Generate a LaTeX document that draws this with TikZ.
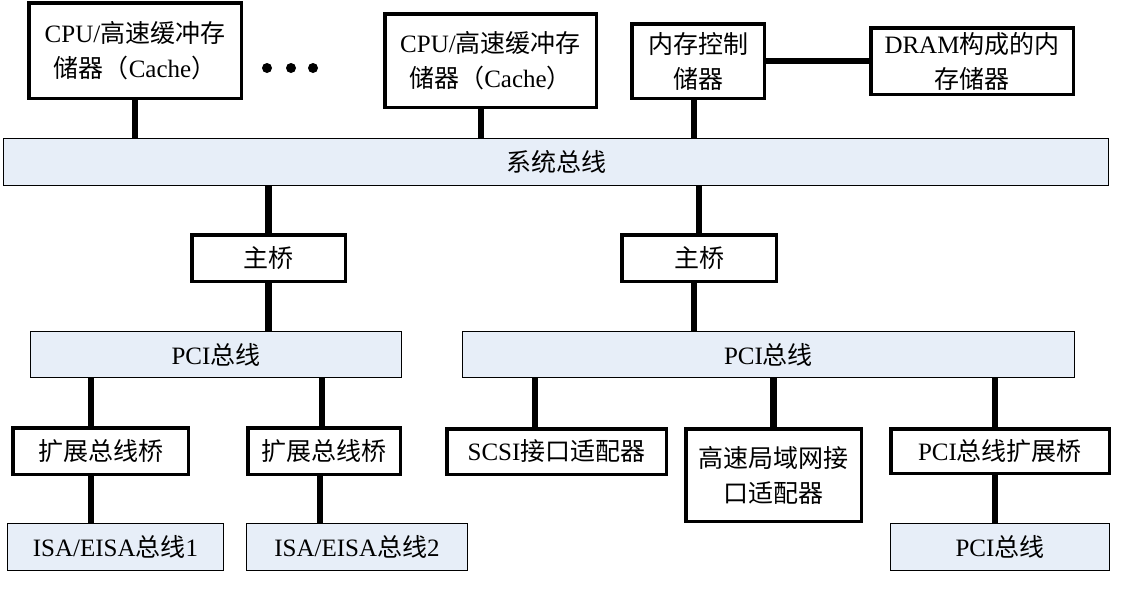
\documentclass[tikz,border=0pt]{standalone}
\usepackage{fontspec}
\setmainfont{Liberation Serif}
\newfontfamily\cjk{Noto Sans CJK SC}
\newcommand{\zh}[1]{{\cjk #1}}
\definecolor{busfill}{RGB}{231,238,248}
\begin{document}
\begin{tikzpicture}[x=1pt, y=-1pt,
	every node/.style={font=\fontsize{25}{35}\selectfont, align=center, inner sep=0pt},
	unit/.style={draw, line width=3.5pt, fill=white},
	bus/.style={draw, line width=1pt, fill=busfill},
	link/.style={line width=6.5pt}]
		\useasboundingbox (0,0) rectangle (1124,590);
		
		% Top row: CPUs and memory
		\node[unit, minimum width=212.5, minimum height=95.5] (cpuA) at (135,50.5) {CPU/\zh{高速缓冲存}\\\zh{储器（}Cache\zh{）}};
		\node[unit, minimum width=211.5, minimum height=93.5] (cpuB) at (490.5,60.5) {CPU/\zh{高速缓冲存}\\\zh{储器（}Cache\zh{）}};
		\node[unit, minimum width=132.5, minimum height=74.5] (memctl) at (698,61) {\zh{内存控制}\\\zh{储器}};
		\node[unit, minimum width=202.5, minimum height=66.5] (dram) at (972,61) {DRAM\zh{构成的内}\\\zh{存储器}};
		
		% Dots between the CPUs
		\foreach \x in {267,291,313}
		\fill (\x,68) circle (5);
		
		% System bus
		\node[bus, minimum width=1105, minimum height=47] (sysbus) at (556,162) {\zh{系统总线}};
		
		% Host bridges
		\node[unit, minimum width=153.5, minimum height=46.5] (bridgeA) at (268.5,258) {\zh{主桥}};
		\node[unit, minimum width=154.5, minimum height=46.5] (bridgeB) at (699,258) {\zh{主桥}};
		
		% PCI buses
		\node[bus, minimum width=371, minimum height=46] (pciA) at (216,354.5) {PCI\zh{总线}};
		\node[bus, minimum width=612, minimum height=46] (pciB) at (768.5,354.5) {PCI\zh{总线}};
		
		% Bridges and adapters on the PCI buses
		\node[unit, minimum width=175.5, minimum height=46.5] (extA) at (100.5,451) {\zh{扩展总线桥}};
		\node[unit, minimum width=152.5, minimum height=46.5] (extB) at (324,451) {\zh{扩展总线桥}};
		\node[unit, minimum width=219.5, minimum height=45.5] (scsi) at (556.5,451.5) {SCSI\zh{接口适配器}};
		\node[unit, minimum width=175.5, minimum height=92.5] (lan) at (773.5,475) {\zh{高速局域网接}\\\zh{口适配器}};
		\node[unit, minimum width=218.5, minimum height=44.5] (pciext) at (1000,451) {PCI\zh{总线扩展桥}};
		
		% Bottom buses
		\node[bus, minimum width=216, minimum height=47] (isaA) at (115.5,547) {ISA/EISA\zh{总线}1};
		\node[bus, minimum width=221, minimum height=47] (isaB) at (357,547) {ISA/EISA\zh{总线}2};
		\node[bus, minimum width=219, minimum height=47] (pciC) at (1000,547) {PCI\zh{总线}};
		
		% Links to the system bus
		\draw[link] (cpuA.south) -- (cpuA.south |- sysbus.north);
		\draw[link] ([xshift=-9.5pt]cpuB.south) -- ([xshift=-9.5pt]cpuB.south |- sysbus.north);
		\draw[link] ([xshift=-4pt]memctl.south) -- ([xshift=-4pt]memctl.south |- sysbus.north);
		\draw[link] (memctl.east) -- (dram.west);
		\draw[link] (sysbus.south -| bridgeA.north) -- (bridgeA.north);
		\draw[link] (sysbus.south -| bridgeB.north) -- (bridgeB.north);
		
		% Links to the PCI buses
		\draw[link] (bridgeA.south) -- (bridgeA.south |- pciA.north);
		\draw[link] ([xshift=-5pt]bridgeB.south) -- ([xshift=-5pt]bridgeB.south |- pciB.north);
		\draw[link] ([xshift=-9.5pt]extA.north |- pciA.south) -- ([xshift=-9.5pt]extA.north);
		\draw[link] ([xshift=-2pt]extB.north |- pciA.south) -- ([xshift=-2pt]extB.north);
		\draw[link] ([xshift=-21.5pt]scsi.north |- pciB.south) -- ([xshift=-21.5pt]scsi.north);
		\draw[link] (lan.north |- pciB.south) -- (lan.north);
		\draw[link] ([xshift=-5pt]pciext.north |- pciB.south) -- ([xshift=-5pt]pciext.north);
		
		% Links to the bottom buses
		\draw[link] ([xshift=-9.5pt]extA.south) -- ([xshift=-9.5pt]extA.south |- isaA.north);
		\draw[link] ([xshift=-4pt]extB.south) -- ([xshift=-4pt]extB.south |- isaB.north);
		\draw[link] ([xshift=-5pt]pciext.south) -- ([xshift=-5pt]pciext.south |- pciC.north);
	\end{tikzpicture}
\end{document}
